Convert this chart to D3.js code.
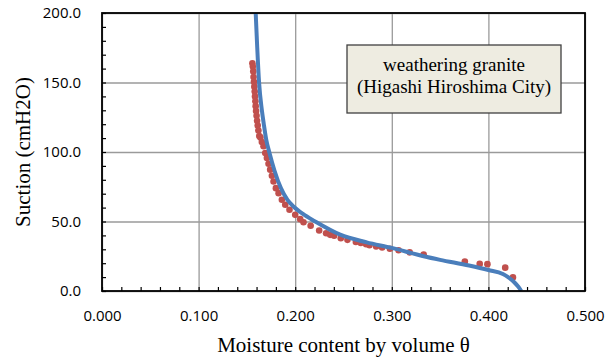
<!DOCTYPE html>
<html>
<head>
<meta charset="utf-8">
<script src="https://cdn.jsdelivr.net/npm/d3@7"></script>
<style>
  body { margin: 0; background: #fff; }
  svg { display: block; }
  .tick-label { font-family: "Open Sans", sans-serif; font-size: 15px; fill: #000; }
  .axis-title { font-family: "Liberation Serif", "Times New Roman", serif; font-size: 21px; fill: #000; }
  .note-text { font-family: "Liberation Serif", "Times New Roman", serif; font-size: 19px; fill: #000; }
</style>
</head>
<body>
<div id="chart"></div>
<script>
// measured points (moisture content θ, suction cmH2O)
const obsTheta = [0.1557, 0.1562, 0.1566, 0.1569, 0.1573, 0.1577, 0.1581, 0.1584, 0.1588, 0.1591,
    0.1595, 0.1600, 0.1605, 0.1612, 0.1619, 0.1628, 0.1640, 0.1655, 0.1672, 0.1690,
    0.1707, 0.1724, 0.1741, 0.1759, 0.1776, 0.1800, 0.1828, 0.1862, 0.1897, 0.1941,
    0.2000, 0.2052, 0.2086, 0.2160, 0.2248, 0.2320, 0.2362, 0.2403, 0.2472, 0.2541,
    0.2628, 0.2679, 0.2734, 0.2769, 0.2838, 0.2900, 0.2980, 0.3070, 0.3185, 0.3330,
    0.3756, 0.3910, 0.3990, 0.4174, 0.4254];
const obsSuction = [163.8, 161.5, 158.0, 154.0, 150.5, 147.0, 143.5, 140.0, 136.5, 133.0,
    129.5, 126.0, 122.5, 119.0, 115.5, 111.5, 110.5, 107.2, 104.1, 99.3,
    95.7, 91.6, 87.3, 82.9, 78.8, 74.0, 70.4, 65.6, 62.0, 58.4,
    54.8, 51.7, 49.5, 46.9, 43.5, 41.6, 40.4, 39.7, 38.0, 36.8,
    35.3, 34.6, 33.7, 32.9, 32.0, 31.3, 30.4, 29.3, 27.8, 26.2,
    21.2, 19.5, 19.3, 16.8, 9.8];

// fitted retention curve
const fitTheta = [0.1591, 0.1607, 0.1626, 0.1655, 0.1675, 0.1700, 0.1734, 0.1786, 0.1852, 0.1920,
    0.1983, 0.2080, 0.2207, 0.2466, 0.2740, 0.3000, 0.3330, 0.3500, 0.3800,
    0.4000, 0.4150, 0.4200, 0.4270, 0.4310, 0.4340];
const fitSuction = [200, 175, 150, 130, 120, 108.9, 99.3, 86.5, 74.0, 65.5,
    60.8, 55.4, 50.0, 40.5, 35.0, 31.0, 25.0, 22.4, 18.3,
    15.1, 12.3, 10.2, 6.1, 3.0, 0];

const xTicks = [0, 0.1, 0.2, 0.3, 0.4, 0.5];
const yTicks = [0, 50, 100, 150, 200];
const xTitle = 'Moisture content by volume \u03b8';
const yTitle = 'Suction (cmH2O)';
const noteLines = ['weathering granite', '(Higashi Hiroshima City)'];

class RetentionChart {
    constructor(_config) {
        this.config = {
            parentElement: _config.parentElement,
            containerWidth: 616,
            containerHeight: 358,
            margin: {top: 13, right: 31, bottom: 67, left: 102}
        };
        this.initVis();
    }

    initVis() {
        let vis = this;
        vis.config.width = vis.config.containerWidth - vis.config.margin.left - vis.config.margin.right;
        vis.config.height = vis.config.containerHeight - vis.config.margin.top - vis.config.margin.bottom;

        vis.xScale = d3.scaleLinear().domain([0, 0.5]).range([0, vis.config.width]);
        vis.yScale = d3.scaleLinear().domain([0, 200]).range([vis.config.height, 0]);

        vis.svg = d3.select(vis.config.parentElement).append('svg')
            .attr('width', vis.config.containerWidth)
            .attr('height', vis.config.containerHeight);

        vis.chart = vis.svg.append('g')
            .attr('transform', `translate(${vis.config.margin.left},${vis.config.margin.top})`);

        vis.renderVis();
    }

    renderVis() {
        let vis = this;
        const w = vis.config.width, h = vis.config.height;

        // grid lines
        vis.chart.append('g')
            .attr('transform', `translate(0,${h})`)
            .call(d3.axisBottom(vis.xScale).tickValues(xTicks).tickSize(-h).tickFormat(''))
            .call(g => g.select('.domain').remove())
            .selectAll('line').attr('stroke', '#9a9a9a').attr('stroke-width', 1.3);
        vis.chart.append('g')
            .call(d3.axisLeft(vis.yScale).tickValues(yTicks).tickSize(-w).tickFormat(''))
            .call(g => g.select('.domain').remove())
            .selectAll('line').attr('stroke', '#9a9a9a').attr('stroke-width', 1.3);

        // minor ticks pointing inwards
        vis.chart.append('g')
            .attr('transform', `translate(0,${h})`)
            .call(d3.axisBottom(vis.xScale).tickValues(d3.range(0, 0.5001, 0.02)).tickSize(-4).tickFormat(''))
            .call(g => g.select('.domain').remove())
            .selectAll('line').attr('stroke', '#000').attr('stroke-width', 1.2);
        vis.chart.append('g')
            .call(d3.axisLeft(vis.yScale).tickValues(d3.range(0, 201, 10)).tickSize(-4).tickFormat(''))
            .call(g => g.select('.domain').remove())
            .selectAll('line').attr('stroke', '#000').attr('stroke-width', 1.2);

        // tick labels
        const xLab = vis.chart.append('g')
            .attr('transform', `translate(0,${h})`)
            .call(d3.axisBottom(vis.xScale).tickValues(xTicks).tickSize(0).tickPadding(19).tickFormat(d3.format('.3f')));
        xLab.select('.domain').remove();
        xLab.selectAll('text').attr('class', 'tick-label').attr('font-family', null).attr('font-size', null);

        const yLab = vis.chart.append('g')
            .call(d3.axisLeft(vis.yScale).tickValues(yTicks).tickSize(0).tickPadding(21).tickFormat(d3.format('.1f')));
        yLab.select('.domain').remove();
        yLab.selectAll('text').attr('class', 'tick-label').attr('font-family', null).attr('font-size', null);

        // observed points
        const obs = obsTheta.map((t, i) => ({theta: t, suction: obsSuction[i]}));
        vis.chart.append('g').selectAll('circle')
            .data(obs)
            .join('circle')
            .attr('cx', d => vis.xScale(d.theta))
            .attr('cy', d => vis.yScale(d.suction))
            .attr('r', 3.3)
            .attr('fill', '#c0504d');

        // fitted curve
        const fit = fitTheta.map((t, i) => ({theta: t, suction: fitSuction[i]}));
        const line = d3.line()
            .x(d => vis.xScale(d.theta))
            .y(d => vis.yScale(d.suction))
            .curve(d3.curveMonotoneX);
        vis.chart.append('path')
            .datum(fit)
            .attr('d', line)
            .attr('fill', 'none')
            .attr('stroke', '#4a7ebb')
            .attr('stroke-width', 4)
            .attr('stroke-linecap', 'butt');

        // plot frame
        vis.chart.append('rect')
            .attr('width', w)
            .attr('height', h)
            .attr('fill', 'none')
            .attr('stroke', '#000')
            .attr('stroke-width', 1.8);

        // note box
        const note = vis.svg.append('g').attr('transform', 'translate(347,45)');
        note.append('rect')
            .attr('width', 214)
            .attr('height', 68)
            .attr('fill', '#eeece1')
            .attr('stroke', '#404040')
            .attr('stroke-width', 1.3);
        note.selectAll('text')
            .data(noteLines)
            .join('text')
            .attr('class', 'note-text')
            .attr('x', 107)
            .attr('y', (d, i) => 26 + i * 22)
            .attr('text-anchor', 'middle')
            .text(d => d);

        // axis titles
        vis.svg.append('text')
            .attr('class', 'axis-title')
            .attr('x', vis.config.margin.left + w / 2)
            .attr('y', 352)
            .attr('text-anchor', 'middle')
            .text(xTitle);
        vis.svg.append('text')
            .attr('class', 'axis-title')
            .attr('transform', `translate(30,${vis.config.margin.top + h / 2}) rotate(-90)`)
            .attr('text-anchor', 'middle')
            .text(yTitle);
    }
}

const chart = new RetentionChart({parentElement: '#chart'});
</script>
</body>
</html>
